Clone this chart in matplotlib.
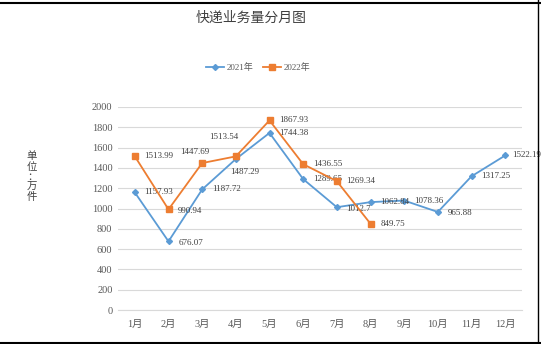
import matplotlib
matplotlib.use("Agg")
import matplotlib.pyplot as plt
from matplotlib.lines import Line2D

plt.rcParams['font.family'] = ['Liberation Serif', 'Noto Sans CJK SC', 'DejaVu Sans']

months = ['1月', '2月', '3月', '4月', '5月', '6月', '7月', '8月', '9月', '10月', '11月', '12月']
y2021 = [1157.93, 676.07, 1187.72, 1487.29, 1744.38, 1289.65, 1012.7, 1062.84, 1078.36, 965.88, 1317.25, 1522.19]
y2022 = [1513.99, 990.94, 1447.69, 1513.54, 1867.93, 1436.55, 1269.34, 849.75]
yticks = [0, 200, 400, 600, 800, 1000, 1200, 1400, 1600, 1800, 2000]

# label offsets in points (dx, dy)
off2021 = [(7, 0), (7, -1), (7, 0), (-4, -9), (7, 0), (7, 0), (7, -1), (7, 0), (7, 0), (7, -1), (7, 0), (5, 0)]
off2022 = [(7, 0), (7, -1), (-16, 8), (-19, 14), (7, 0), (7, 0), (7, 0), (7, 0)]

blue = '#5B9BD5'
orange = '#ED7D31'
tc = '#595959'

fig = plt.figure(figsize=(5.41, 3.44), dpi=100)
ax = fig.add_axes([118/541, 34/344, 404/541, 203/344])

x1 = list(range(len(y2021)))
x2 = list(range(len(y2022)))
ax.plot(x1, y2021, color=blue, lw=1.3, marker='D', ms=3, zorder=3)
ax.plot(x2, y2022, color=orange, lw=1.3, marker='s', ms=4, zorder=4)

for i, v in enumerate(y2021):
    ax.annotate(f'{v:g}', (i, v), xytext=off2021[i], textcoords='offset points',
                fontsize=6.5, color='#404040', va='center', ha='left')
for i, v in enumerate(y2022):
    ax.annotate(f'{v:g}', (i, v), xytext=off2022[i], textcoords='offset points',
                fontsize=6.5, color='#404040', va='center', ha='left')

ax.set_xlim(-0.5, len(months) - 0.5)
ax.set_ylim(0, 2000)
ax.set_yticks(yticks)
ax.set_xticks(x1)
ax.set_xticklabels(months)
ax.grid(axis='y', color='#D9D9D9', lw=0.8)
ax.set_axisbelow(True)
for s in ['top', 'right', 'left']:
    ax.spines[s].set_visible(False)
ax.spines['bottom'].set_color('#D9D9D9')
ax.tick_params(axis='both', length=0, labelsize=7.5, colors=tc)
ax.tick_params(axis='x', pad=7)
ax.tick_params(axis='y', pad=4)

fig.text(251/541, 1 - 18/344, '快递业务量分月图', ha='center', va='center', fontsize=10, color='#404040')
fig.text(32/541, 1 - 177/344, '单\n位\n：\n万\n件', ha='center', va='center', fontsize=7.5, color='#404040', linespacing=1.1)

handles = [Line2D([], [], color=blue, marker='D', ms=3, lw=1.3),
           Line2D([], [], color=orange, marker='s', ms=4, lw=1.3)]
fig.legend(handles, ['2021年', '2022年'], loc='center', bbox_to_anchor=(258/541, 1 - 68/344),
           ncol=2, frameon=False, fontsize=6.5, handlelength=2.0, columnspacing=1.0,
           handletextpad=0.3, labelcolor=tc)

# border lines
fig.add_artist(Line2D([0, 1], [1 - 2.5/344, 1 - 2.5/344], transform=fig.transFigure, color='black', lw=1.5))
fig.add_artist(Line2D([0, 1], [1.5/344, 1.5/344], transform=fig.transFigure, color='black', lw=1.5))
fig.add_artist(Line2D([538/541, 538/541], [0, 1], transform=fig.transFigure, color='black', lw=1.0))

fig.savefig('out.png', dpi=100)
